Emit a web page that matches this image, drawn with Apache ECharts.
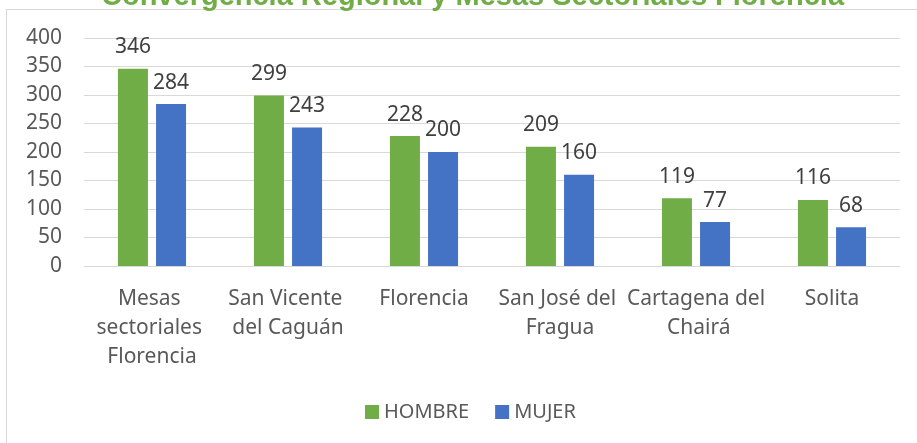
<!DOCTYPE html>
<html>
<head>
<meta charset="utf-8">
<script src="https://cdn.jsdelivr.net/npm/echarts@6/dist/echarts.min.js"></script>
<style>
  html, body { margin: 0; padding: 0; background: #fff; }
  #chart { width: 917px; height: 443px; }
</style>
</head>
<body>
<div id="chart"></div>
<script>
const categories = [
  'Mesas sectoriales Florencia',
  'San Vicente del Caguán',
  'Florencia',
  'San José del Fragua',
  'Cartagena del Chairá',
  'Solita'
];
const hombre = [346, 299, 228, 209, 119, 116];
const mujer = [284, 243, 200, 160, 77, 68];
const seriesNames = ['HOMBRE', 'MUJER'];
const yTicks = { min: 0, max: 400, interval: 50 };

const font = '"Noto Sans", sans-serif';
const colors = ['#70ad47', '#4472c4'];

const chart = echarts.init(document.getElementById('chart'));

function barSeries(name, data, color) {
  return {
    name: name,
    type: 'bar',
    data: data,
    barWidth: 30,
    barGap: '27%',
    itemStyle: { color: color },
    label: {
      show: true,
      position: 'top',
      distance: 11,
      color: '#404040',
      fontSize: 21,
      fontFamily: font
    }
  };
}

chart.setOption({
  backgroundColor: '#fff',
  animation: false,
  title: {
    text: 'Convergencia Regional y Mesas Sectoriales Florencia',
    left: 96,
    top: -23,
    textStyle: {
      color: '#70ad47',
      fontWeight: 'bold',
      fontSize: 29,
      fontFamily: '"Liberation Sans", Arial, sans-serif'
    }
  },
  graphic: [{
    type: 'rect',
    shape: { x: 6.5, y: 9.5, width: 1000, height: 1000 },
    style: { fill: 'none', stroke: '#d9d9d9', lineWidth: 1 },
    z: -1
  }],
  legend: {
    data: seriesNames,
    left: 360,
    top: 397,
    itemWidth: 14,
    itemHeight: 14,
    itemGap: 26,
    icon: 'rect',
    textStyle: { color: '#595959', fontSize: 20, fontFamily: font }
  },
  grid: { left: 84, right: 17, top: 38, bottom: 177 },
  xAxis: {
    type: 'category',
    data: categories,
    axisLine: { lineStyle: { color: '#d9d9d9' } },
    axisTick: { show: false },
    axisLabel: {
      interval: 0,
      margin: 19,
      color: '#595959',
      fontSize: 21,
      fontFamily: font,
      lineHeight: 29,
      width: 142,
      overflow: 'break'
    }
  },
  yAxis: {
    type: 'value',
    min: yTicks.min,
    max: yTicks.max,
    interval: yTicks.interval,
    axisLine: { show: false },
    axisTick: { show: false },
    splitLine: { lineStyle: { color: '#d9d9d9', width: 1 } },
    axisLabel: {
      margin: 22,
      color: '#595959',
      fontSize: 21,
      fontFamily: font
    }
  },
  series: [
    barSeries(seriesNames[0], hombre, colors[0]),
    barSeries(seriesNames[1], mujer, colors[1])
  ]
});
</script>
</body>
</html>
